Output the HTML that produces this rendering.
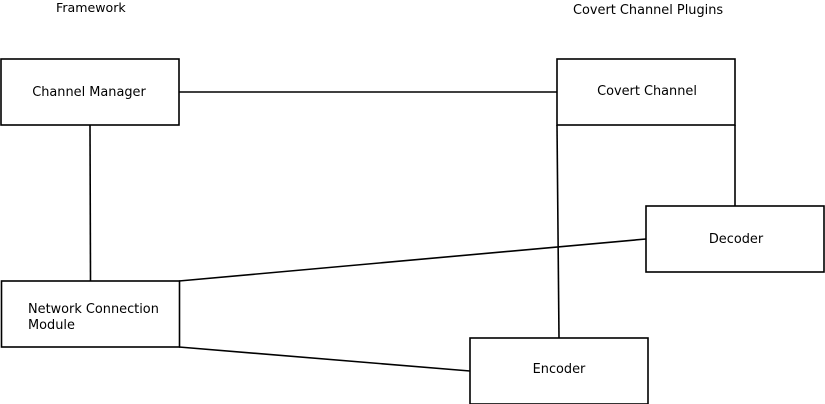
<!DOCTYPE html>
<html><head><style>html,body{margin:0;padding:0;background:#fff;}svg{display:block}</style></head>
<body>
<svg width="825" height="404" viewBox="0 0 825 404" xmlns="http://www.w3.org/2000/svg" font-family="DejaVu Sans, Liberation Sans, sans-serif" font-size="12.9" fill="#000">
<g stroke="#000" stroke-width="1.6" fill="none">
<line x1="179" y1="92" x2="557" y2="92"/>
<line x1="90" y1="125" x2="90.5" y2="281"/>
<line x1="557" y1="125" x2="559" y2="338"/>
<line x1="735" y1="125" x2="735" y2="206"/>
<line x1="179" y1="281" x2="646" y2="239"/>
<line x1="179" y1="347" x2="470" y2="371"/>
<rect x="1" y="59" width="178" height="66" fill="#fff"/>
<rect x="557" y="59" width="178" height="66" fill="#fff"/>
<rect x="646" y="206" width="178" height="66" fill="#fff"/>
<rect x="1.5" y="281" width="178" height="66" fill="#fff"/>
<rect x="470" y="338" width="178" height="66" fill="#fff"/>
</g>
<text x="56" y="12" font-size="12.6">Framework</text>
<text x="573" y="14">Covert Channel Plugins</text>
<text x="89" y="96" text-anchor="middle">Channel Manager</text>
<text x="647" y="95" text-anchor="middle">Covert Channel</text>
<text x="736" y="243" text-anchor="middle">Decoder</text>
<text x="28" y="313">Network Connection</text>
<text x="28" y="329">Module</text>
<text x="559" y="373" text-anchor="middle">Encoder</text>
</svg>
</body></html>
